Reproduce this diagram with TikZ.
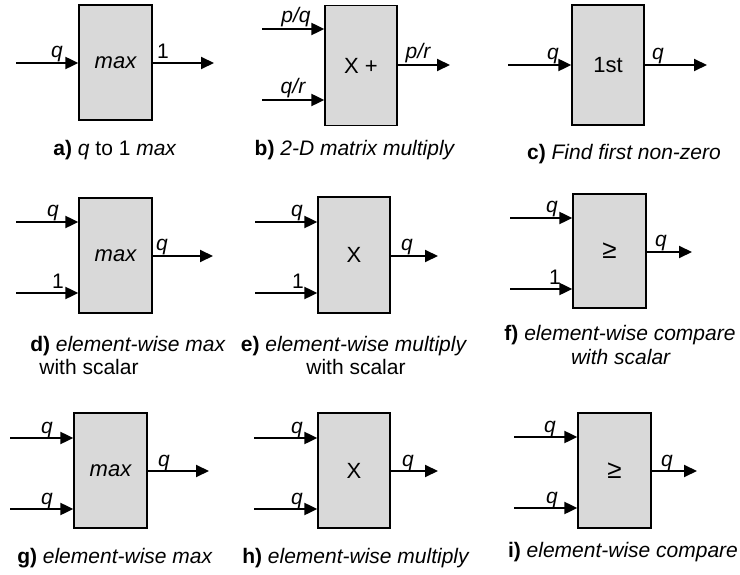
\documentclass[tikz,border=0pt]{standalone}
\usepackage{fontspec}
\setmainfont{Liberation Sans}
\usetikzlibrary{arrows.meta}
\definecolor{boxgray}{HTML}{D9D9D9}
\tikzset{
  blk/.style={draw=black, line width=1.3pt, fill=boxgray, inner sep=0pt, font=\fontsize{22}{26}\selectfont},
  arr/.style={line width=2pt, -{Triangle[length=13pt,width=12pt]}},
  lbl/.style={anchor=base, inner sep=0pt, font=\fontsize{21}{24}\selectfont},
  captxt/.style={anchor=base, inner sep=0pt, font=\fontsize{21}{25}\selectfont},
  geq/.style={font=\fontsize{26}{30}\selectfont},
}
\begin{document}
\begin{tikzpicture}[x=1pt,y=-1pt]
\useasboundingbox (0,0) rectangle (740,575);
% ---------- a ----------
\node[blk, minimum width=73pt, minimum height=115pt] (A) at (115.5,62.5) {\itshape max};
\coordinate (Ain) at (16,63); \coordinate (Aout) at (214,63);
\draw[arr] (Ain) -- (Ain -| A.west);
\draw[arr] (Aout -| A.east) -- (Aout);
\node[lbl] (Al1) at (57,58) {\itshape q};
\node[lbl] (Al2) at (163,59) {1};
\node[captxt] (Acap) at (115,156) {\textbf{a)} \textit{q} to 1 \textit{max}};
% ---------- b ----------
\node[blk, minimum width=72pt, minimum height=120pt] (B) at (361,65.5) {X +};
\coordinate (Bin1) at (262,29); \coordinate (Bin2) at (262,100); \coordinate (Bout) at (450,65);
\draw[arr] (Bin1) -- (Bin1 -| B.west);
\draw[arr] (Bin2) -- (Bin2 -| B.west);
\draw[arr] (Bout -| B.east) -- (Bout);
\node[lbl] (Bl1) at (296,23) {\itshape p/q};
\node[lbl] (Bl2) at (293,94) {\itshape q/r};
\node[lbl] (Bl3) at (418,59) {\itshape p/r};
\node[captxt] (Bcap) at (355,156) {\textbf{b)} \textit{2-D matrix multiply}};
% ---------- c ----------
\node[blk, minimum width=72pt, minimum height=120pt] (C) at (608,65) {1st};
\coordinate (Cin) at (508,65); \coordinate (Cout) at (707,65);
\draw[arr] (Cin) -- (Cin -| C.west);
\draw[arr] (Cout -| C.east) -- (Cout);
\node[lbl] (Cl1) at (553,60) {\itshape q};
\node[lbl] (Cl2) at (658,60) {\itshape q};
\node[captxt] (Ccap) at (624,160) {\textbf{c)} \textit{Find first non-zero}};
% ---------- d ----------
\node[blk, minimum width=73pt, minimum height=115pt] (D) at (115.5,255.5) {\itshape max};
\coordinate (Din1) at (16,222); \coordinate (Din2) at (16,293); \coordinate (Dout) at (213,256);
\draw[arr] (Din1) -- (Din1 -| D.west);
\draw[arr] (Din2) -- (Din2 -| D.west);
\draw[arr] (Dout -| D.east) -- (Dout);
\node[lbl] (Dl1) at (53,217) {\itshape q};
\node[lbl] (Dl2) at (58,289) {1};
\node[lbl] (Dl3) at (162,251) {\itshape q};
\node[captxt] (Dcap1) at (128,351) {\textbf{d)} \textit{element-wise max}};
\node[captxt] (Dcap2) at (89,374) {with scalar};
% ---------- e ----------
\node[blk, minimum width=72pt, minimum height=116pt] (E) at (354,255) {X};
\coordinate (Ein1) at (255,222); \coordinate (Ein2) at (255,293); \coordinate (Eout) at (438,256);
\draw[arr] (Ein1) -- (Ein1 -| E.west);
\draw[arr] (Ein2) -- (Ein2 -| E.west);
\draw[arr] (Eout -| E.east) -- (Eout);
\node[lbl] (El1) at (297,217) {\itshape q};
\node[lbl] (El2) at (298,289) {1};
\node[lbl] (El3) at (407,251) {\itshape q};
\node[captxt] (Ecap1) at (354,351) {\textbf{e)} \textit{element-wise multiply}};
\node[captxt] (Ecap2) at (356,374) {with scalar};
% ---------- f ----------
\node[blk, geq, minimum width=73pt, minimum height=114pt] (F) at (609.5,251) {≥};
\coordinate (Fin1) at (510,218); \coordinate (Fin2) at (510,289); \coordinate (Fout) at (692,252);
\draw[arr] (Fin1) -- (Fin1 -| F.west);
\draw[arr] (Fin2) -- (Fin2 -| F.west);
\draw[arr] (Fout -| F.east) -- (Fout);
\node[lbl] (Fl1) at (552,213) {\itshape q};
\node[lbl] (Fl2) at (555,285) {1};
\node[lbl] (Fl3) at (661,247) {\itshape q};
\node[captxt] (Fcap1) at (620,341) {\textbf{f)} \textit{element-wise compare}};
\node[captxt] (Fcap2) at (621,364) {\textit{with scalar}};
% ---------- g ----------
\node[blk, minimum width=73pt, minimum height=115pt] (G) at (110.5,470.5) {\itshape max};
\coordinate (Gin1) at (10,438); \coordinate (Gin2) at (10,509); \coordinate (Gout) at (209,471);
\draw[arr] (Gin1) -- (Gin1 -| G.west);
\draw[arr] (Gin2) -- (Gin2 -| G.west);
\draw[arr] (Gout -| G.east) -- (Gout);
\node[lbl] (Gl1) at (47,433) {\itshape q};
\node[lbl] (Gl2) at (47,504) {\itshape q};
\node[lbl] (Gl3) at (164,466) {\itshape q};
\node[captxt] (Gcap) at (115,563) {\textbf{g)} \textit{element-wise max}};
% ---------- h ----------
\node[blk, minimum width=72pt, minimum height=115pt] (H) at (354,470.5) {X};
\coordinate (Hin1) at (254,438); \coordinate (Hin2) at (254,509); \coordinate (Hout) at (438,471);
\draw[arr] (Hin1) -- (Hin1 -| H.west);
\draw[arr] (Hin2) -- (Hin2 -| H.west);
\draw[arr] (Hout -| H.east) -- (Hout);
\node[lbl] (Hl1) at (297,433) {\itshape q};
\node[lbl] (Hl2) at (297,504) {\itshape q};
\node[lbl] (Hl3) at (408,466) {\itshape q};
\node[captxt] (Hcap) at (356,563) {\textbf{h)} \textit{element-wise multiply}};
% ---------- i ----------
\node[blk, geq, minimum width=73pt, minimum height=115pt] (I) at (614.5,470.5) {≥};
\coordinate (Iin1) at (514,437); \coordinate (Iin2) at (514,508); \coordinate (Iout) at (697,471);
\draw[arr] (Iin1) -- (Iin1 -| I.west);
\draw[arr] (Iin2) -- (Iin2 -| I.west);
\draw[arr] (Iout -| I.east) -- (Iout);
\node[lbl] (Il1) at (550,432) {\itshape q};
\node[lbl] (Il2) at (552,503) {\itshape q};
\node[lbl] (Il3) at (667,466) {\itshape q};
\node[captxt] (Icap) at (623,557) {\textbf{i)} \textit{element-wise compare}};
\end{tikzpicture}
\end{document}
